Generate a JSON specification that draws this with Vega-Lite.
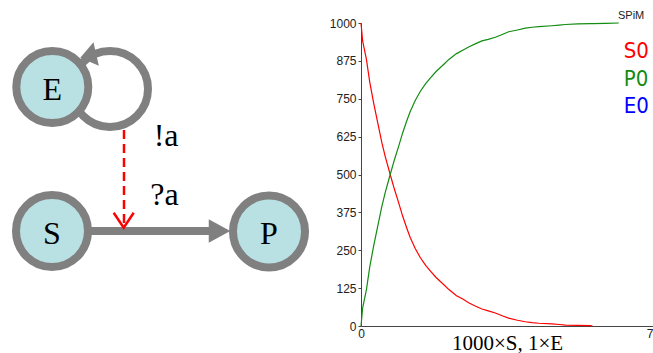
{
  "$schema": "https://vega.github.io/schema/vega-lite/v6.json",
  "padding": 0,
  "background": "white",
  "bounds": "flush",
  "spacing": 39,
  "config": {"view": {"stroke": null}, "axis": {"grid": false}},
  "hconcat": [
    {
      "width": 320,
      "height": 303,
      "encoding": {
        "x": {"field": "x", "type": "quantitative", "scale": {"domain": [0, 320], "nice": false, "zero": false}, "axis": null},
        "y": {"field": "y", "type": "quantitative", "scale": {"domain": [22, 325], "nice": false, "zero": false, "reverse": true}, "axis": null}
      },
      "layer": [
        {
          "data": {"values": [{"x": 0, "y": 0}]},
          "mark": {"type": "point", "opacity": 0, "size": 1}
        },
        {
          "data": {"values": [{"part": "E loop", "x": 108, "y": 88}]},
          "mark": {"type": "point", "shape": "circle", "filled": false, "size": 5776, "color": "#808080", "stroke": "#808080", "strokeWidth": 8, "opacity": 1}
        },
        {
          "data": {"values": [{"part": "a channel", "x": 122, "y": 129, "y2": 224}]},
          "encoding": {"y2": {"field": "y2"}},
          "mark": {"type": "rule", "color": "#ff0000", "strokeWidth": 2.5, "strokeDash": [9, 5]}
        },
        {
          "data": {"values": [{"part": "S to P", "x": 88, "x2": 212, "y": 230}]},
          "encoding": {"x2": {"field": "x2"}},
          "mark": {"type": "rule", "color": "#808080", "strokeWidth": 8}
        },
        {
          "data": {"values": [{"part": "S to P head", "x": 217.5, "y": 230}]},
          "mark": {"type": "point", "shape": "M0.92,0L-0.92,-1L-0.92,1Z", "size": 548, "filled": true, "color": "#808080", "strokeWidth": 0, "opacity": 1}
        },
        {
          "data": {"values": [{"part": "a head", "x": 121.7, "y": 219.2}]},
          "mark": {"type": "point", "shape": "M-1,-0.75L0,0.75L1,-0.75", "size": 400, "filled": false, "color": "#ff0000", "strokeWidth": 2.5, "opacity": 1}
        },
        {
          "data": {"values": [
            {"node": "E", "x": 50.3, "y": 86},
            {"node": "S", "x": 50, "y": 230},
            {"node": "P", "x": 267, "y": 230.5}
          ]},
          "mark": {"type": "point", "shape": "circle", "filled": true, "size": 5184, "fill": "#b9e0e3", "stroke": "#808080", "strokeWidth": 8, "opacity": 1}
        },
        {
          "data": {"values": [{"part": "loop head", "x": 86.2, "y": 54.9}]},
          "mark": {"type": "point", "shape": "M0.68,0L-0.68,-1L-0.68,1Z", "size": 576, "angle": 167, "filled": true, "color": "#808080", "strokeWidth": 0, "opacity": 1}
        },
        {
          "data": {"values": [
            {"label": "E", "x": 50.3, "y": 98.5},
            {"label": "S", "x": 50, "y": 243},
            {"label": "P", "x": 267, "y": 243}
          ]},
          "encoding": {"text": {"field": "label"}},
          "mark": {"type": "text", "font": "Liberation Serif", "fontSize": 32, "align": "center", "baseline": "alphabetic", "color": "#000000"}
        },
        {
          "data": {"values": [
            {"label": "!a", "x": 151.7, "y": 145},
            {"label": "?a", "x": 148.3, "y": 204}
          ]},
          "encoding": {"text": {"field": "label"}},
          "mark": {"type": "text", "font": "Liberation Serif", "fontSize": 32, "align": "left", "baseline": "alphabetic", "color": "#000000"}
        }
      ]
    },
    {
      "width": 292,
      "height": 303,
      "encoding": {
        "x": {"field": "t", "type": "quantitative", "scale": {"domain": [0, 7], "nice": false},
              "axis": {"values": [0, 7], "ticks": false, "labelFlush": false, "labelAlign": {"condition": {"test": "datum.value == 7", "value": "right"}, "value": "center"}, "labelPadding": 2, "labelFont": "Liberation Sans", "labelFontSize": 12, "labelColor": "#222222", "domainColor": "#444444", "title": "1000×S, 1×E", "titleFont": "Liberation Serif", "titleFontSize": 21, "titleFontWeight": "normal", "titleColor": "#000000", "titlePadding": -7}},
        "y": {"field": "count", "type": "quantitative", "scale": {"domain": [0, 1000], "nice": false},
              "axis": {"values": [0, 125, 250, 375, 500, 625, 750, 875, 1000], "format": "d", "labelOverlap": false, "tickSize": 3, "labelPadding": 2, "labelFont": "Liberation Sans", "labelFontSize": 12, "labelColor": "#222222", "domainColor": "#444444", "tickColor": "#444444", "title": null}}
      },
      "layer": [
        {
          "data": {"values": [
            {"t": 0, "S": 1000, "P": 0},
            {"t": 0.04, "S": 940, "P": 60},
            {"t": 0.13, "S": 880, "P": 120},
            {"t": 0.21, "S": 805, "P": 195},
            {"t": 0.30, "S": 738, "P": 262},
            {"t": 0.40, "S": 671, "P": 329},
            {"t": 0.50, "S": 605, "P": 395},
            {"t": 0.58, "S": 560, "P": 440},
            {"t": 0.69, "S": 505, "P": 495},
            {"t": 0.80, "S": 452, "P": 548},
            {"t": 0.90, "S": 408, "P": 592},
            {"t": 1.00, "S": 362, "P": 638},
            {"t": 1.10, "S": 322, "P": 678},
            {"t": 1.18, "S": 292, "P": 708},
            {"t": 1.30, "S": 256, "P": 744},
            {"t": 1.42, "S": 226, "P": 774},
            {"t": 1.55, "S": 200, "P": 800},
            {"t": 1.66, "S": 182, "P": 818},
            {"t": 1.80, "S": 160, "P": 840},
            {"t": 1.98, "S": 137, "P": 863},
            {"t": 2.10, "S": 121, "P": 879},
            {"t": 2.29, "S": 100, "P": 899},
            {"t": 2.45, "S": 88, "P": 911},
            {"t": 2.58, "S": 77, "P": 921},
            {"t": 2.75, "S": 65, "P": 932},
            {"t": 2.90, "S": 56, "P": 941},
            {"t": 3.05, "S": 50, "P": 946},
            {"t": 3.22, "S": 43, "P": 953},
            {"t": 3.40, "S": 33, "P": 963},
            {"t": 3.54, "S": 26, "P": 971},
            {"t": 3.75, "S": 19, "P": 977},
            {"t": 3.94, "S": 14, "P": 983},
            {"t": 4.10, "S": 11, "P": 986},
            {"t": 4.26, "S": 9, "P": 988},
            {"t": 4.58, "S": 7, "P": 991},
            {"t": 4.75, "S": 5, "P": 993},
            {"t": 4.90, "S": 3, "P": 995},
            {"t": 5.20, "S": 2, "P": 997},
            {"t": 5.50, "S": 1, "P": 998},
            {"t": 5.55, "S": 0, "P": 998},
            {"t": 5.86, "S": null, "P": 999},
            {"t": 6.18, "S": null, "P": 1000}
          ]},
          "transform": [{"fold": ["S", "P"], "as": ["species", "count"]}],
          "mark": {"type": "line", "strokeWidth": 1.2},
          "encoding": {
            "color": {"field": "species", "type": "nominal", "scale": {"domain": ["S", "P", "E"], "range": ["#ff0000", "#128c12", "#0000ff"]}, "legend": null}
          }
        },
        {
          "data": {"values": [
            {"t": 6.3, "count": 908, "species": "S", "label": "S0"},
            {"t": 6.3, "count": 814, "species": "P", "label": "P0"},
            {"t": 6.3, "count": 726, "species": "E", "label": "E0"}
          ]},
          "mark": {"type": "text", "font": "DejaVu Sans Condensed, DejaVu Sans", "fontSize": 22, "align": "left", "baseline": "middle"},
          "encoding": {
            "text": {"field": "label"},
            "color": {"field": "species", "type": "nominal", "legend": null}
          }
        },
        {
          "data": {"values": [{"t": 6.16, "count": 1023, "label": "SPiM"}]},
          "mark": {"type": "text", "font": "Liberation Sans", "fontSize": 11, "align": "left", "baseline": "middle", "color": "#222222"},
          "encoding": {
            "text": {"field": "label"}
          }
        }
      ]
    }
  ]
}
